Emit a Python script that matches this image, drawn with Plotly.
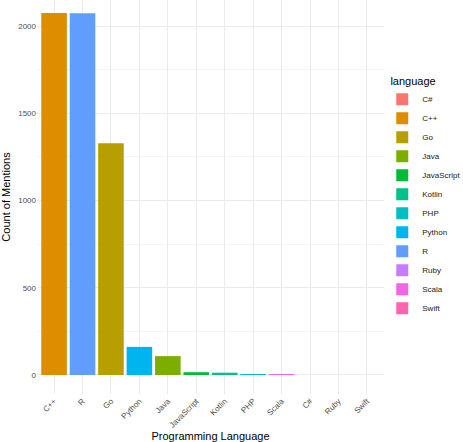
import plotly.graph_objects as go

categories = ["C++", "R", "Go", "Python", "Java", "JavaScript", "Kotlin", "PHP", "Scala", "C#", "Ruby", "Swift"]
counts = [2075, 2073, 1328, 161, 108, 16, 13, 4, 3, 0, 0, 0]
legend_order = ["C#", "C++", "Go", "Java", "JavaScript", "Kotlin", "PHP", "Python", "R", "Ruby", "Scala", "Swift"]
palette = ["#F8766D", "#DE8C00", "#B79F00", "#7CAE00", "#00BA38", "#00C08B",
           "#00BFC4", "#00B4F0", "#619CFF", "#C77CFF", "#F564E3", "#FF64B0"]
y_ticks = [0, 500, 1000, 1500, 2000]

color_of = dict(zip(legend_order, palette))
count_of = dict(zip(categories, counts))

fig = go.Figure()
for lang in legend_order:
    fig.add_trace(go.Bar(
        x=[lang], y=[count_of[lang]], name=lang,
        marker=dict(color=color_of[lang], line=dict(width=0)),
        width=0.9,
    ))

fig.update_layout(
    width=463, height=442,
    margin=dict(l=37, r=79, t=0, b=48, autoexpand=False),
    paper_bgcolor="white", plot_bgcolor="white",
    font=dict(family="Liberation Sans, Arial, sans-serif", size=8, color="#4D4D4D"),
    barmode="overlay",
    showlegend=True,
    legend=dict(
        title=dict(text="&nbsp;&nbsp;language", font=dict(size=11, color="black")),
        x=0.995, xanchor="left", y=0.5, yanchor="middle",
        font=dict(size=8, color="#1A1A1A"),
        traceorder="normal",
        itemwidth=30,
        tracegroupgap=0,
        bgcolor="rgba(0,0,0,0)",
    ),
)

fig.update_xaxes(
    categoryorder="array", categoryarray=categories,
    range=[-0.6, len(categories) - 0.4],
    showgrid=True, gridcolor="#EBEBEB", gridwidth=1,
    zeroline=False, showline=False, ticks="",
    tickangle=-45, tickfont=dict(size=8, color="#4D4D4D"),
    title=dict(text="Programming Language", font=dict(size=11, color="black"), standoff=4),
    automargin=False,
)
fig.update_yaxes(
    range=[-109, 2149],
    tickvals=y_ticks, ticktext=[str(v) for v in y_ticks],
    showgrid=True, gridcolor="#EBEBEB", gridwidth=1,
    minor=dict(dtick=250, tick0=0, showgrid=True, gridcolor="#F4F4F4", gridwidth=0.6, ticks=""),
    zeroline=False, showline=False, ticks="",
    tickfont=dict(size=8, color="#4D4D4D"),
    title=dict(text="Count of Mentions", font=dict(size=11, color="black"), standoff=6),
    automargin=False,
)

fig.write_html("out.html")
